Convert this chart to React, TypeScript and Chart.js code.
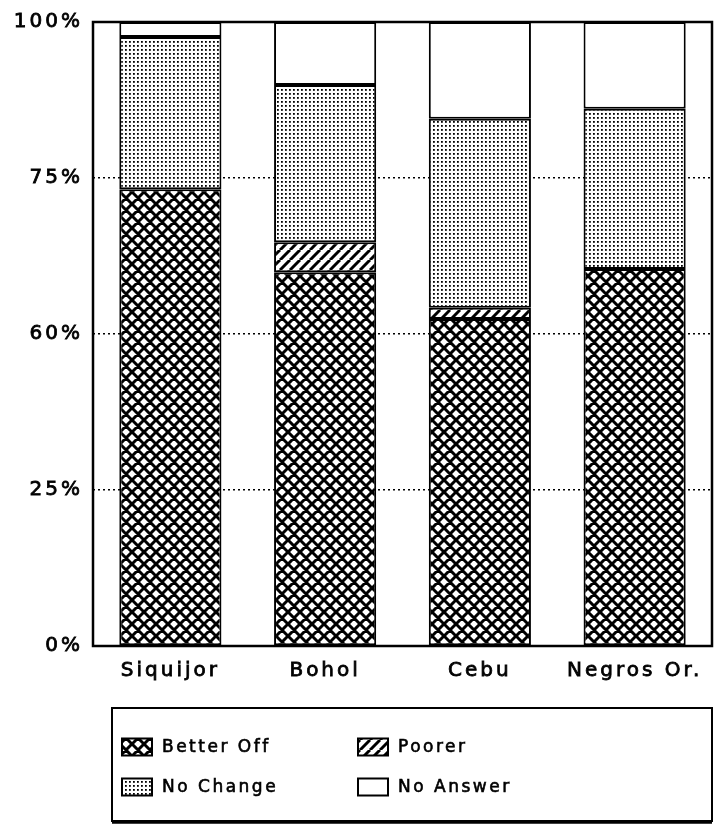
import { useEffect, useRef } from 'react';
import { Chart, registerables } from 'chart.js';

Chart.register(...registerables);

const categories = ['Siquijor', 'Bohol', 'Cebu', 'Negros Or.'];
const betterOff = [73.2, 59.9, 52.4, 60.4];
const poorer = [0, 4.8, 1.8, 0];
const noChange = [24.4, 25.2, 30.3, 25.7];
const noAnswer = [2.4, 10.1, 15.5, 13.9];
const seriesLabels = ['Better Off', 'Poorer', 'No Change', 'No Answer'];
const tickValues = [0, 25, 50, 75, 100];
const tickLabels = ['0%', '25%', '60%', '75%', '100%'];

function makePattern(kind: string): CanvasPattern | string {
  const c = document.createElement('canvas');
  const ctx = c.getContext('2d')!;
  if (kind === 'cross') {
    const s = 12;
    c.width = s; c.height = s;
    ctx.fillStyle = '#fff';
    ctx.fillRect(0, 0, s, s);
    ctx.strokeStyle = '#000';
    ctx.lineWidth = 3;
    ctx.beginPath();
    for (let k = -1; k <= 1; k++) {
      ctx.moveTo(k * s, 0); ctx.lineTo(k * s + s, s);
      ctx.moveTo(k * s, s); ctx.lineTo(k * s + s, 0);
    }
    ctx.stroke();
  } else if (kind === 'hatch') {
    const s = 10;
    c.width = s; c.height = s;
    ctx.fillStyle = '#fff';
    ctx.fillRect(0, 0, s, s);
    ctx.strokeStyle = '#000';
    ctx.lineWidth = 3;
    ctx.beginPath();
    for (let k = -1; k <= 1; k++) {
      ctx.moveTo(k * s, s); ctx.lineTo(k * s + s, 0);
    }
    ctx.stroke();
  } else if (kind === 'dots') {
    const s = 4;
    c.width = s; c.height = s;
    ctx.fillStyle = '#fff';
    ctx.fillRect(0, 0, s, s);
    ctx.fillStyle = '#000';
    ctx.fillRect(1, 1, 1.8, 1.8);
  } else {
    return '#ffffff';
  }
  return ctx.createPattern(c, 'repeat')!;
}

const FONT = '"DejaVu Sans", "Liberation Sans", sans-serif';

export default function App() {
  const ref = useRef<HTMLCanvasElement>(null);

  useEffect(() => {
    const canvas = ref.current!;
    const patterns = [makePattern('cross'), makePattern('hatch'), makePattern('dots'), makePattern('none')];
    const values = [betterOff, poorer, noChange, noAnswer];

    const spacingPlugin = {
      id: 'spacing',
      beforeDraw(chart: any) {
        (chart.ctx as any).letterSpacing = '3px';
      },
    };

    const framePlugin = {
      id: 'frame',
      afterDatasetsDraw(chart: any) {
        const { ctx, chartArea } = chart;
        ctx.save();
        ctx.strokeStyle = '#000';
        ctx.lineWidth = 2.5;
        ctx.strokeRect(chartArea.left, chartArea.top, chartArea.right - chartArea.left, chartArea.bottom - chartArea.top);
        ctx.restore();
      },
    };

    const legendPlugin = {
      id: 'boxLegend',
      afterDraw(chart: any) {
        const ctx = chart.ctx as CanvasRenderingContext2D;
        ctx.save();
        const bx = 112, by = 708, bw = 600, bh = 113;
        ctx.strokeStyle = '#000';
        ctx.lineWidth = 2;
        ctx.strokeRect(bx, by, bw, bh);
        ctx.lineWidth = 3.5;
        ctx.beginPath();
        ctx.moveTo(bx, by + bh + 1);
        ctx.lineTo(bx + bw, by + bh + 1);
        ctx.stroke();
        (ctx as any).letterSpacing = '2.5px';
        ctx.font = `17px ${FONT}`;
        ctx.textBaseline = 'middle';
        const pos = [
          [122, 747],
          [358, 747],
          [122, 787],
          [358, 787],
        ];
        [0, 1, 2, 3].forEach((di, i) => {
          const ds = chart.data.datasets[di];
          const [x, y] = pos[i];
          const w = 30, h = 17;
          ctx.fillStyle = ds.backgroundColor;
          ctx.fillRect(x, y - h / 2, w, h);
          ctx.lineWidth = 2;
          ctx.strokeStyle = '#000';
          ctx.strokeRect(x, y - h / 2, w, h);
          ctx.fillStyle = '#000';
          ctx.lineWidth = 0.6;
          ctx.strokeText(ds.label, x + w + 10, y + 1);
          ctx.fillText(ds.label, x + w + 10, y + 1);
        });
        ctx.restore();
      },
    };

    const chart = new Chart(canvas, {
      type: 'bar',
      data: {
        labels: categories,
        datasets: seriesLabels.map((label, i) => ({
          label,
          data: values[i],
          backgroundColor: patterns[i] as any,
          borderColor: '#000',
          borderWidth: 2,
          borderSkipped: false,
          categoryPercentage: 1,
          barPercentage: 0.66,
        })),
      },
      options: {
        animation: false,
        responsive: false,
        devicePixelRatio: 1,
        layout: { padding: { top: 20, right: 5, bottom: 125, left: 0 } },
        plugins: {
          legend: { display: false },
          tooltip: { enabled: false },
        },
        scales: {
          x: {
            stacked: true,
            grid: { display: false, drawTicks: false },
            border: { display: false },
            ticks: {
              color: '#000',
              font: { family: FONT, size: 20 },
              textStrokeColor: '#000',
              textStrokeWidth: 0.8,
              padding: 13,
              maxRotation: 0,
              autoSkip: false,
            },
            afterFit(scale: any) { scale.height = 60; },
          },
          y: {
            stacked: true,
            min: 0,
            max: 100,
            afterBuildTicks(scale: any) {
              scale.ticks = tickValues.map((v) => ({ value: v }));
            },
            grid: {
              drawTicks: false,
              color: (c: any) => (c.tick && (c.tick.value === 0 || c.tick.value === 100) ? 'rgba(0,0,0,0)' : '#000'),
              lineWidth: 1.6,
            },
            border: { display: false, dash: [2, 3] },
            ticks: {
              color: '#000',
              font: { family: FONT, size: 20 },
              textStrokeColor: '#000',
              textStrokeWidth: 0.8,
              padding: 10,
              callback: (v: any) => {
                const i = tickValues.indexOf(Number(v));
                return i >= 0 ? tickLabels[i] : '';
              },
            },
            afterFit(scale: any) { scale.width = 93; },
          },
        },
      },
      plugins: [spacingPlugin, framePlugin, legendPlugin],
    });

    return () => chart.destroy();
  }, []);

  return (
    <div style={{ position: 'absolute', left: 0, top: 0, width: 717, height: 831, background: '#fff' }}>
      <canvas ref={ref} width={717} height={831} style={{ width: 717, height: 831, display: 'block' }} />
    </div>
  );
}
